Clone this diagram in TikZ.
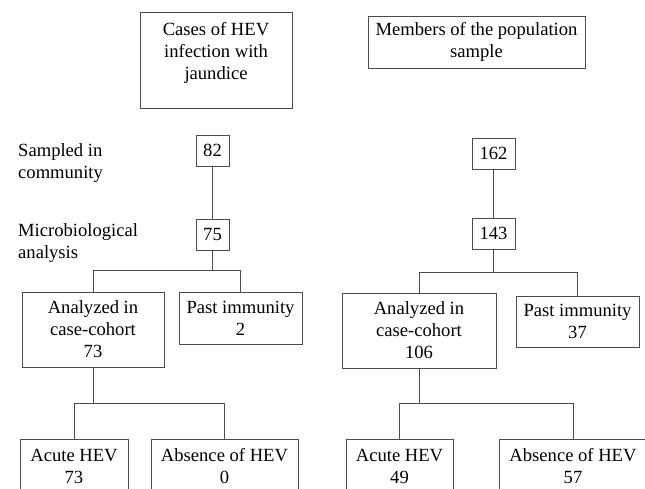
\documentclass[tikz,border=0pt]{standalone}
\usepackage{fontspec}
\setmainfont{Liberation Serif}
\usetikzlibrary{positioning}

\begin{document}
\begin{tikzpicture}[
            x=1pt, y=-1pt,
            box/.style={
                rectangle,
                draw=black!70,
                line width=0.8pt,
                align=center,
                inner sep=0pt,
                font=\fontsize{18.6}{22}\selectfont
            },
            numbox/.style={
                box,
                minimum width=33pt,
                minimum height=31pt
            },
            leafbox/.style={
                box,
                minimum height=54pt
            },
            note/.style={
                align=left,
                anchor=west,
                inner sep=0pt,
                font=\fontsize{18.6}{22}\selectfont
            },
            link/.style={
                draw=black!70,
                line width=0.8pt
            },
        ]

            \useasboundingbox (0,0) rectangle (645,489);
            \clip (0,0) rectangle (645,489);

            \node[note] (sampled) at (18,163) {Sampled in\\community};
            \node[note] (micro) at (18,243) {Microbiological\\analysis};

            \begin{scope}[local bounding box = cases]
                \node[box, minimum width=152pt, minimum height=96pt] (head1) at (216,60) {Cases of HEV\\infection with\\jaundice\\[-4pt]\mbox{}};

                \node[numbox] (samp1) at (212.5,150.5) {82};
                \node[numbox] (mic1) at (212.5,234.5) {75};

                \node[box, minimum width=142pt, minimum height=75pt] (ana1) at (93,329.5) {Analyzed in\\case-cohort\\73};
                \node[box, minimum width=123pt, minimum height=52pt] (past1) at (240.5,318) {Past immunity\\2};

                \node[leafbox, minimum width=108pt] (acute1) at (74,466) {Acute HEV\\73};
                \node[leafbox, minimum width=147pt] (abs1) at (224.5,466) {Absence of HEV\\0};

                \draw[link] (samp1) -- (mic1);
                \draw[link] (mic1.south) -- ++(0,20) -| (ana1.north);
                \draw[link] (mic1.south) -- ++(0,20) -| (past1.north);
                \draw[link] (ana1.south) -- ++(0,36) -| (acute1.north);
                \draw[link] (ana1.south) -- ++(0,36) -| (abs1.north);
            \end{scope}

            \begin{scope}[local bounding box = members]
                \node[box, minimum width=217pt, minimum height=52pt] (head2) at (476.5,42) {Members of the population\\sample};

                \node[numbox, minimum width=43pt] (samp2) at (493.5,153.5) {162};
                \node[numbox, minimum width=43pt] (mic2) at (493.5,233.5) {143};

                \node[box, minimum width=154pt, minimum height=75pt] (ana2) at (419,330.5) {Analyzed in\\case-cohort\\106};
                \node[box, minimum width=123pt, minimum height=51pt] (past2) at (577.5,321.5) {Past immunity\\37};

                \node[leafbox, minimum width=107pt] (acute2) at (399.5,466) {Acute HEV\\49};
                \node[leafbox, minimum width=148pt] (abs2) at (573,466) {Absence of HEV\\57};

                \draw[link] (samp2) -- (mic2);
                \draw[link] (mic2.south) -- ++(0,23) -| (ana2.north);
                \draw[link] (mic2.south) -- ++(0,23) -| (past2.north);
                \draw[link] (ana2.south) -- ++(0,35) -| (acute2.north);
                \draw[link] (ana2.south) -- ++(0,35) -| (abs2.north);
            \end{scope}
        \end{tikzpicture}
\end{document}
